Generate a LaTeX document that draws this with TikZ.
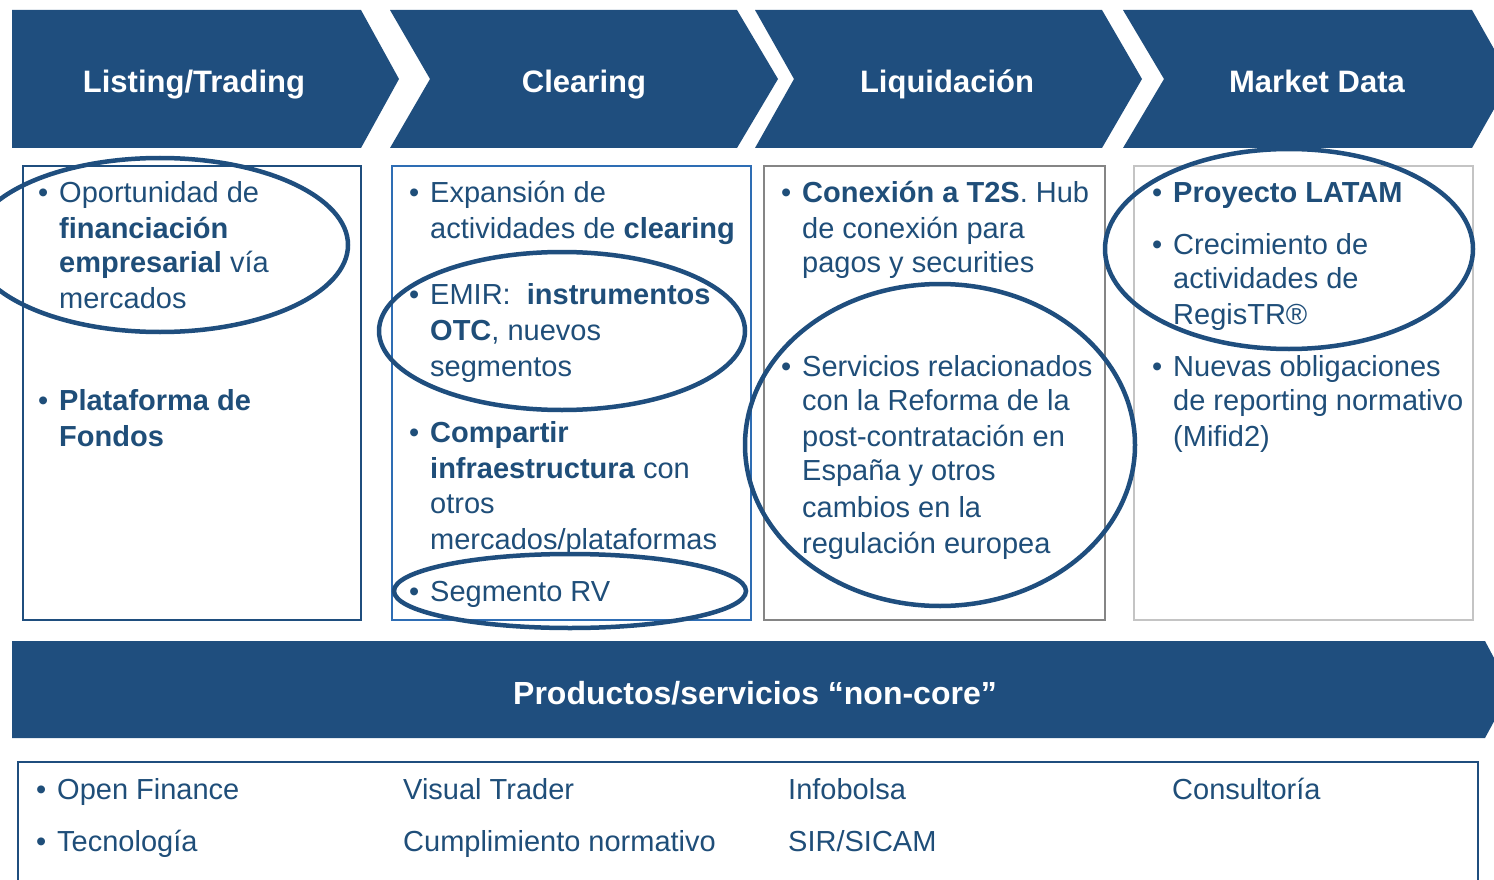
\documentclass[tikz,border=0pt]{standalone}
\usepackage{fontspec}
\setmainfont{Liberation Sans}
\definecolor{navy}{HTML}{1F4E7E}
\definecolor{txtblue}{HTML}{1F4E79}
\definecolor{boxblue}{HTML}{2E6DB4}
\definecolor{boxgray}{HTML}{858585}
\definecolor{boxlgray}{HTML}{C4C4C4}
\tikzset{
  txt/.style={anchor=base west, inner sep=0pt, text=txtblue, font=\fontsize{29}{35}\selectfont},
  bul/.style={anchor=base west, inner sep=0pt, text=txtblue, font=\fontsize{29}{35}\selectfont},
  ttl/.style={anchor=base, inner sep=0pt, text=white, font=\fontsize{31}{37}\selectfont\bfseries},
  band/.style={fill=navy, draw=none},
  hl/.style={draw=navy, line width=4.5pt},
  cbox/.style={line width=1.8pt, fill=white}
}
\begin{document}
\begin{tikzpicture}[x=1pt,y=-1pt]
\useasboundingbox (0,0) rectangle (1494,880);
\clip (0,0) rectangle (1494,880);
% chevrons
\fill[band] (12,10) -- (361,10) -- (399,79) -- (361,148) -- (12,148) -- cycle;
\fill[band] (390,10) -- (737,10) -- (778,79) -- (737,148) -- (390,148) -- (430,79) -- cycle;
\fill[band] (755,10) -- (1102,10) -- (1142,79) -- (1102,148) -- (755,148) -- (794,79) -- cycle;
\fill[band] (1123,10) -- (1472,10) -- (1511,79) -- (1472,148) -- (1123,148) -- (1164,79) -- cycle;
\node[ttl] (h1) at (194,93) {Listing/Trading};
\node[ttl] (h2) at (584,93) {Clearing};
\node[ttl] (h3) at (947,93) {Liquidación};
\node[ttl] (h4) at (1317,93) {Market Data};
% content boxes
\draw[cbox, draw=navy] (23,166) rectangle (361,620);
\draw[cbox, draw=boxblue] (392,166) rectangle (751,620);
\draw[cbox, draw=boxgray] (764,166) rectangle (1105,620);
\draw[cbox, draw=boxlgray] (1134,166) rectangle (1473,620);
% box 1
\node[bul] (b1a) at (38,202) {•};
\node[txt] (t1a) at (59,202) {Oportunidad de};
\node[txt] (t1b) at (59,238) {\textbf{financiación}};
\node[txt] (t1c) at (59,272) {\textbf{empresarial} vía};
\node[txt] (t1d) at (59,308) {mercados};
\node[bul] (b1b) at (38,410) {•};
\node[txt] (t1e) at (59,410) {\textbf{Plataforma de}};
\node[txt] (t1f) at (59,446) {\textbf{Fondos}};
% box 2
\node[bul] (b2a) at (409,202) {•};
\node[txt] (t2a) at (430,202) {Expansión de};
\node[txt] (t2b) at (430,238) {actividades de \textbf{clearing}};
\node[bul] (b2b) at (409,304) {•};
\node[txt] (t2c) at (430,304) {EMIR:\ \ \textbf{instrumentos}};
\node[txt] (t2d) at (430,340) {\textbf{OTC}, nuevos};
\node[txt] (t2e) at (430,376) {segmentos};
\node[bul] (b2c) at (409,442) {•};
\node[txt] (t2f) at (430,442) {\textbf{Compartir}};
\node[txt] (t2g) at (430,478) {\textbf{infraestructura} con};
\node[txt] (t2h) at (430,513) {otros};
\node[txt] (t2i) at (430,549) {mercados/plataformas};
\node[bul] (b2d) at (409,601) {•};
\node[txt] (t2j) at (430,601) {Segmento RV};
% box 3
\node[bul] (b3a) at (781,202) {•};
\node[txt] (t3a) at (802,202) {\textbf{Conexión a T2S}. Hub};
\node[txt] (t3b) at (802,238) {de conexión para};
\node[txt] (t3c) at (802,272) {pagos y securities};
\node[bul] (b3b) at (781,376) {•};
\node[txt] (t3d) at (802,376) {Servicios relacionados};
\node[txt] (t3e) at (802,410) {con la Reforma de la};
\node[txt] (t3f) at (802,446) {post-contratación en};
\node[txt] (t3g) at (802,480) {España y otros};
\node[txt] (t3h) at (802,517) {cambios en la};
\node[txt] (t3i) at (802,553) {regulación europea};
% box 4
\node[bul] (b4a) at (1152,202) {•};
\node[txt] (t4a) at (1173,202) {\textbf{Proyecto LATAM}};
\node[bul] (b4b) at (1152,254) {•};
\node[txt] (t4b) at (1173,254) {Crecimiento de};
\node[txt] (t4c) at (1173,288) {actividades de};
\node[txt] (t4d) at (1173,324) {RegisTR®};
\node[bul] (b4c) at (1152,376) {•};
\node[txt] (t4e) at (1173,376) {Nuevas obligaciones};
\node[txt] (t4f) at (1173,410) {de reporting normativo};
\node[txt] (t4g) at (1173,446) {(Mifid2)};
% highlight ellipses
\draw[hl] (160,245) ellipse [x radius=188pt, y radius=87pt];
\draw[hl] (562,331) ellipse [x radius=183pt, y radius=79pt];
\draw[hl] (570,591) ellipse [x radius=176pt, y radius=37pt];
\draw[hl] (940,445) ellipse [x radius=195pt, y radius=161pt];
\draw[hl] (1289,249) ellipse [x radius=184pt, y radius=100pt];
% non-core band
\fill[band] (12,641) -- (1485,641) -- (1511,690) -- (1485,738) -- (12,738) -- cycle;
\node[ttl, font=\fontsize{32}{38}\selectfont\bfseries] (nc) at (755,704) {Productos/servicios “non-core”};
\draw[line width=2pt, draw=navy] (18,900) -- (18,762) -- (1478,762) -- (1478,900);
\node[bul] (b5a) at (36,799) {•};
\node[txt] (t5a) at (57,799) {Open Finance};
\node[bul] (b5b) at (36,851) {•};
\node[txt] (t5b) at (57,851) {Tecnología};
\node[txt] (t5c) at (403,799) {Visual Trader};
\node[txt] (t5d) at (403,851) {Cumplimiento normativo};
\node[txt] (t5e) at (788,799) {Infobolsa};
\node[txt] (t5f) at (788,851) {SIR/SICAM};
\node[txt] (t5g) at (1172,799) {Consultoría};
\end{tikzpicture}
\end{document}
